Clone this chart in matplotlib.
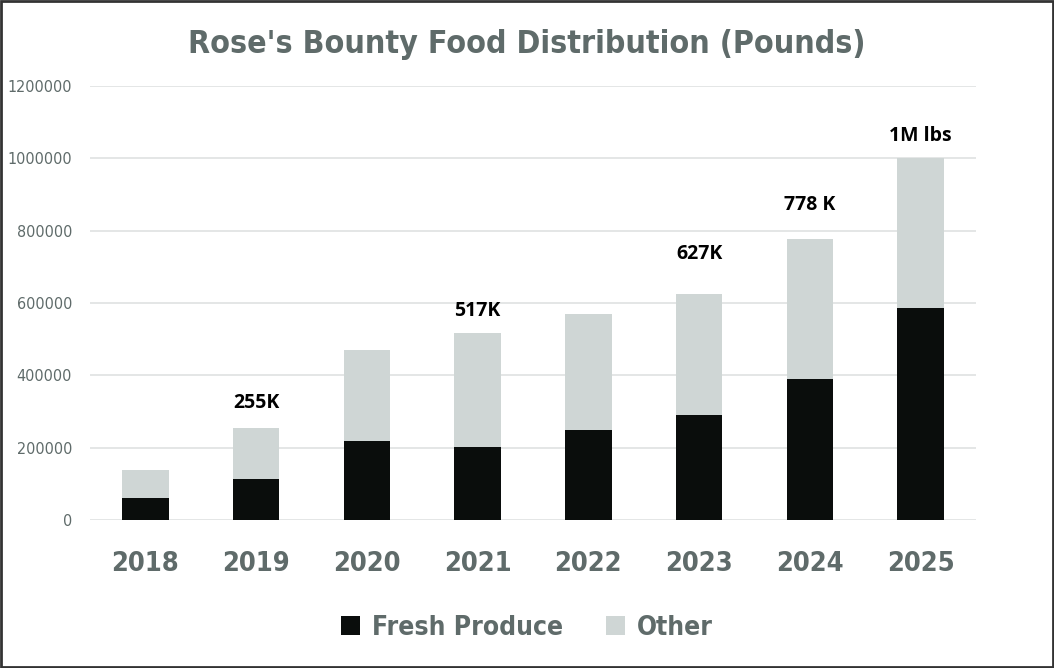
import matplotlib.pyplot as plt
from matplotlib.patches import Rectangle

# data
years = ['2018', '2019', '2020', '2021', '2022', '2023', '2024', '2025']
fresh = [60000, 113000, 218000, 202000, 249000, 290000, 390000, 586000]
total = [138000, 255000, 470000, 517000, 570000, 625000, 777000, 1000000]
other = [t - f for t, f in zip(total, fresh)]

# hand-placed callouts (year index, text, height)
note_idx = [1, 3, 5, 6, 7]
note_text = ['255K', '517K', '627K', '778 K', '1M lbs']
note_y = [324000, 578000, 736000, 871000, 1062000]

black = '#0a0d0c'
light = '#cfd6d5'
gray = '#5f6b6a'

fig = plt.figure(figsize=(10.54, 6.68), dpi=100)
ax = fig.add_axes([90 / 1054, 1 - 520 / 668, 886 / 1054, 434 / 668])

x = range(len(years))
ax.bar(x, fresh, width=0.42, color=black, label='Fresh Produce', zorder=3)
ax.bar(x, other, bottom=fresh, width=0.42, color=light, label='Other', zorder=3)

for i, t, y in zip(note_idx, note_text, note_y):
    ax.text(i, y, t, ha='center', va='center', fontsize=14, fontweight='bold',
            color='black', family='Open Sans')

ax.set_xlim(-0.5, 7.5)
ax.set_ylim(0, 1200000)
ax.set_yticks(range(0, 1200001, 200000))
ax.set_yticklabels([str(v) for v in range(0, 1200001, 200000)])
ax.set_xticks(list(x))
ax.set_xticklabels(years)
ax.grid(axis='y', color='#e2e4e4', linewidth=1.3, zorder=0)
for s in ax.spines.values():
    s.set_visible(False)
ax.tick_params(axis='both', length=0)
ax.tick_params(axis='y', labelsize=11.5, labelcolor=gray, pad=13)
ax.tick_params(axis='x', labelsize=19.5, labelcolor=gray, pad=22)
for lab in ax.get_yticklabels():
    lab.set_fontstretch('condensed')
for lab in ax.get_xticklabels():
    lab.set_fontweight('bold')
    lab.set_fontstretch('condensed')

fig.text(0.5, 1 - 45 / 668, "Rose's Bounty Food Distribution (Pounds)", ha='center',
         va='center', fontsize=23, fontweight='bold', color=gray,
         fontstretch='condensed')

leg = fig.legend(loc='center', bbox_to_anchor=(0.5, 1 - 628 / 668), ncol=2,
                 frameon=False, handlelength=0.75, handleheight=0.75,
                 columnspacing=1.6, handletextpad=0.45,
                 prop={'weight': 'bold', 'size': 19, 'stretch': 'condensed'})
for t in leg.get_texts():
    t.set_color(gray)

fig.patches.append(Rectangle((0.001, 0.001), 0.998, 0.997, transform=fig.transFigure,
                             fill=False, edgecolor='#333333', linewidth=2))

fig.savefig('out.png', dpi=100)
